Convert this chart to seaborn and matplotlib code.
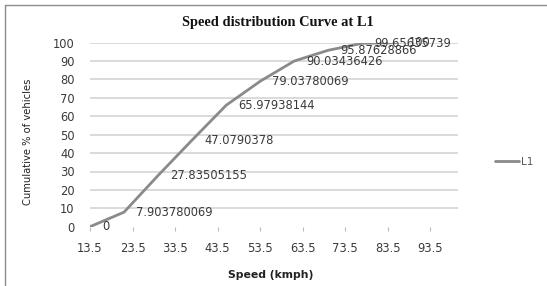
import matplotlib
matplotlib.use("Agg")
import matplotlib.pyplot as plt
from matplotlib.lines import Line2D
import pandas as pd
import seaborn as sns

# data
speed = [13.5, 21.5, 29.5, 37.5, 45.5, 53.5, 61.5, 69.5, 77.5, 85.5]
cum_pct = [0, 7.903780069, 27.83505155, 47.0790378, 65.97938144,
           79.03780069, 90.03436426, 95.87628866, 99.65635739, 100]
xticks = [13.5, 23.5, 33.5, 43.5, 53.5, 63.5, 73.5, 83.5, 93.5]
yticks = [0, 10, 20, 30, 40, 50, 60, 70, 80, 90, 100]
series = "L1"

df = pd.DataFrame({"Speed": speed, "Cum": cum_pct, "Series": series})

sns.set_style("white")
plt.rcParams['font.family'] = ['DejaVu Sans']

line_col = "#8a8a8a"
text_col = "#3a3a3a"

fig = plt.figure(figsize=(5.47, 2.86), dpi=100)
ax = fig.add_axes([90 / 547, 1 - 226.7 / 286, 368 / 547, 184 / 286])

sns.lineplot(data=df, x="Speed", y="Cum", ax=ax, color=line_col,
             linewidth=2.0, legend=False)

# data labels to the right of each point
for xv, yv in zip(speed, cum_pct):
    ax.annotate(f"{yv:.10g}", (xv, yv), xytext=(12, 0),
                textcoords="offset pixels", ha="left", va="center",
                fontsize=8.3, color=text_col)

ax.set_xlim(13.5, 100)
ax.set_ylim(0, 100)
ax.set_xticks(xticks)
ax.set_xticklabels([f"{t}" for t in xticks])
ax.set_yticks(yticks)

ax.grid(axis="y", color="#d4d4d4", linewidth=1.2)
ax.yaxis.get_gridlines()[0].set_visible(False)
ax.set_axisbelow(True)
for s in ax.spines.values():
    s.set_visible(False)

ax.tick_params(axis="x", length=3, width=0.8, color="#bbbbbb", pad=8,
               labelsize=8.3, labelcolor=text_col, direction="out", bottom=True)
ax.tick_params(axis="y", length=0, pad=11, labelsize=8.3, labelcolor=text_col)

ax.set_xlabel("Speed (kmph)", fontsize=7.8, fontweight="bold", color="#222222")
ax.xaxis.set_label_coords(0.49, -0.235)
ax.set_ylabel("Cumulative % of vehicles", fontsize=7.2, color="#222222")
ax.yaxis.set_label_coords(-0.155, 0.46)

fig.text(278 / 547, 1 - 22.5 / 286, "Speed distribution Curve at L1",
         ha="center", va="center", fontsize=10.4, fontweight="bold",
         family="Liberation Serif", color="#111111")

handle = Line2D([], [], color=line_col, linewidth=2.0)
fig.legend([handle], [series], loc="center left",
           bbox_to_anchor=(490 / 547, 1 - 162 / 286), frameon=False,
           handlelength=2.3, handletextpad=0.2, fontsize=7.5,
           labelcolor="#555555", borderpad=0)

# chart border
fig.add_artist(Line2D([5 / 547, 1.0], [1 - 5 / 286, 1 - 5 / 286],
                      transform=fig.transFigure, color="#8c8c8c", linewidth=1))
fig.add_artist(Line2D([5 / 547, 5 / 547], [0.0, 1 - 5 / 286],
                      transform=fig.transFigure, color="#8c8c8c", linewidth=1))

fig.savefig("out.png", dpi=100)
